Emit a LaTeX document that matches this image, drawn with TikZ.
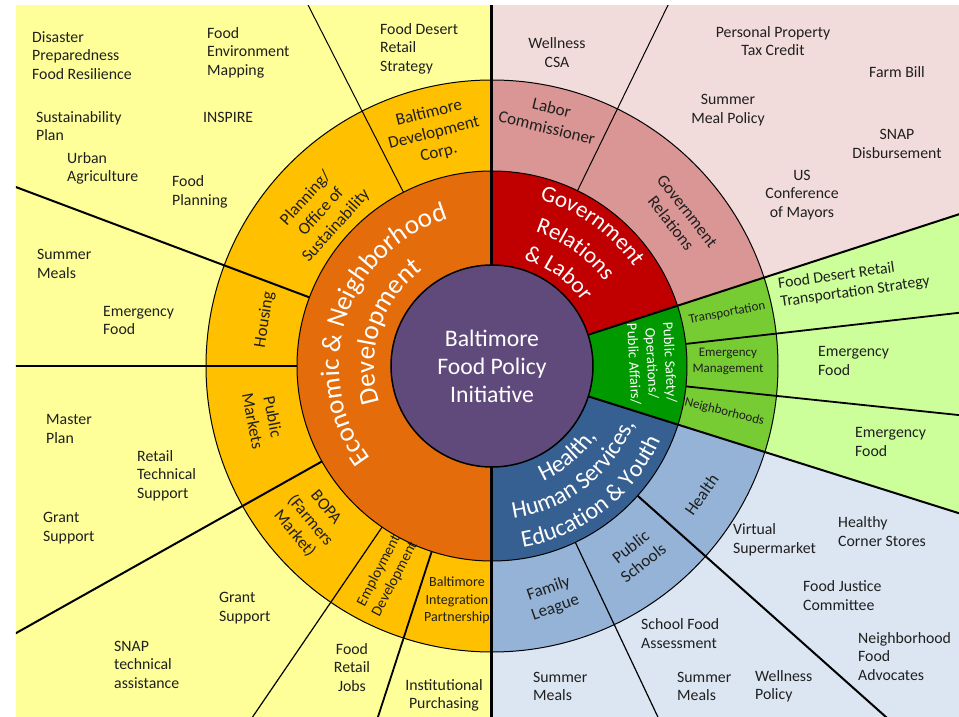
\documentclass[tikz,border=0pt]{standalone}
\usepackage{fontspec}
\setmainfont{Carlito}
\usepackage{xcolor}
\usepackage{tikz}
\usetikzlibrary{decorations.text}
\definecolor{bfpInk}{HTML}{1F1F1F}
\definecolor{bfpYellow}{HTML}{FFFF99}
\definecolor{bfpGold}{HTML}{FFC000}
\definecolor{bfpOrange}{HTML}{E46C0A}
\definecolor{bfpPurple}{HTML}{604A7B}
\definecolor{bfpRed}{HTML}{C00000}
\definecolor{bfpRose}{HTML}{D99694}
\definecolor{bfpBlush}{HTML}{F2DCDB}
\definecolor{bfpGreen}{HTML}{009900}
\definecolor{bfpLime}{HTML}{77CC33}
\definecolor{bfpMint}{HTML}{CCFF99}
\definecolor{bfpNavy}{HTML}{376092}
\definecolor{bfpSky}{HTML}{95B3D7}
\definecolor{bfpMist}{HTML}{DCE6F2}

\begin{document}
\begin{tikzpicture}[
  x=1pt, y=1pt,
  every node/.style={inner sep=0pt, text=bfpInk},
  note/.style={align=left, anchor=west, font=\fontsize{15.8}{18.5}\selectfont},
  cnote/.style={note, align=center, anchor=center},
  unit/.style={align=center, font=\fontsize{17}{20.5}\selectfont},
  subunit/.style={align=center, font=\fontsize{13}{16}\selectfont},
  hub/.style={circle, fill=bfpPurple, draw=black, line width=1.5pt, minimum size=202pt,
    align=center, text=white, font=\fontsize{23.7}{28}\selectfont},
  divider/.style={draw=black, line width=#1},
  divider/.default=2pt,
  rim/.style={draw=black, line width=1pt},
  ringtext/.style={decorate, decoration={text along path, text align=center, text color=white}}
]
  \useasboundingbox (-492,-351) rectangle (467,366);

  \begin{scope}
    \clip (-476,-351) rectangle (467,360);
    % outer fields, ring of units, ring of departments
    \foreach \a/\b/\tint in {90/270/bfpYellow, 18/90/bfpBlush, -17.5/18/bfpMint, -90/-17.5/bfpMist}
      \fill[\tint] (0,0) -- (\a:1000) arc[start angle=\a, end angle=\b, radius=1000] -- cycle;
    \foreach \a/\b/\tint in {90/270/bfpGold, 18/90/bfpRose, -17.5/18/bfpLime, -90/-17.5/bfpSky}
      \fill[\tint] (0,0) -- (\a:286) arc[start angle=\a, end angle=\b, radius=286] -- cycle;
    \draw[rim] (0,0) circle[radius=286];
    \foreach \a/\b/\tint in {90/270/bfpOrange, 18/90/bfpRed, -17.5/18/bfpGreen, -90/-17.5/bfpNavy}
      \fill[\tint] (0,0) -- (\a:195) arc[start angle=\a, end angle=\b, radius=195] -- cycle;
    \draw[rim] (0,0) circle[radius=195];

    \foreach \a/\w in {117/1, 159.4/2, 180/1.5, 209.3/2, 235.7/1.2, 252/1.8,
                       64/1, 6.5/1.8, -6/1.8, -41.7/2, -64.7/1.2}
      \draw[divider=\w pt] (\a:195) -- (\a:1000);
    \foreach \a in {90,-90}
      \draw[divider=3pt] (\a:101) -- (\a:1000);
    \foreach \a in {18,-17.5}
      \draw[divider=2pt] (\a:101) -- (\a:1000);
  \end{scope}

  \node[hub] (bfpi) at (0,0) {Baltimore\\Food Policy\\Initiative};

  % departments, set along the ring
  \path[ringtext, decoration={text={|\fontsize{27}{31}\selectfont|Economic {\&} Neighborhood}}]
    (252:153) arc[start angle=252, end angle=72, radius=153];
  \path[ringtext, decoration={text={|\fontsize{27}{31}\selectfont|Development}}]
    (252:118) arc[start angle=252, end angle=72, radius=118];
  \path[ringtext, decoration={text={|\fontsize{23}{27}\selectfont|Government}}]
    (144.5:173) arc[start angle=144.5, end angle=-35.5, radius=173];
  \path[ringtext, decoration={text={|\fontsize{23}{27}\selectfont|Relations}}]
    (144.5:141) arc[start angle=144.5, end angle=-35.5, radius=141];
  \path[ringtext, decoration={text={|\fontsize{23}{27}\selectfont|{\&} Labor}}]
    (144.5:111) arc[start angle=144.5, end angle=-35.5, radius=111];
  \path[ringtext, decoration={text={|\fontsize{24}{28}\selectfont|Health,}}]
    (-140:126) arc[start angle=-140, end angle=40, radius=126];
  \path[ringtext, decoration={text={|\fontsize{24}{28}\selectfont|Human Services,}}]
    (-142:154) arc[start angle=-142, end angle=38, radius=154];
  \path[ringtext, decoration={text={|\fontsize{24}{28}\selectfont|Education {\&} Youth}}]
    (-142:184) arc[start angle=-142, end angle=38, radius=184];
  \node[align=center, text=white, font=\fontsize{14.5}{18}\selectfont, rotate=-87] (pubsafety) at (1:160)
    {Public Safety/\\Operations/\\Public Affairs/};

  % units
  \node[unit, rotate=14] (bdc) at (104:240) {Baltimore\\Development\\Corp.};
  \node[unit, rotate=48] (planning) at (138:230) {Planning/\\Office of\\Sustainability};
  \node[unit, rotate=81] (housing) at (168.5:232) {Housing};
  \node[unit, rotate=-79] (markets) at (193:235) {Public\\Markets};
  \node[unit, rotate=-50] (bopa) at (220.4:239) {BOPA\\(Farmers\\Market)};
  \node[unit, font=\fontsize{15}{18}\selectfont, rotate=62.5] (employ) at (243.3:234) {Employment\\Development};
  \node[unit, font=\fontsize{14}{17.5}\selectfont] (bip) at (261.5:237) {Baltimore\\Integration\\Partnership};
  \node[unit, rotate=-13.5] (labor) at (77:255) {Labor\\Commissioner};
  \node[unit, rotate=-52] (govrel) at (38.5:239) {Government\\Relations};
  \node[subunit, rotate=11] (transport) at (12.7:241) {Transportation};
  \node[subunit] (emergmgmt) at (1:236) {Emergency\\Management};
  \node[subunit, rotate=-14] (hoods) at (-11.2:237) {Neighborhoods};
  \node[unit, rotate=55] (health) at (-31.6:246) {Health};
  \node[unit, rotate=38] (schools) at (-52.5:238) {Public\\Schools};
  \node[unit, rotate=19] (family) at (-75.5:240) {Family\\League};

  % programs, placed in page coordinates
  \begin{scope}[shift={(-492,366)}, y=-1pt]
    \node[note] (disaster) at (32,55.5) {Disaster\\Preparedness\\Food Resilience};
    \node[note] (envmap) at (207,52.5) {Food\\Environment\\Mapping};
    \node[note] (sustplan) at (36,126) {Sustainability\\Plan};
    \node[note] (inspire) at (203,117) {INSPIRE};
    \node[note] (urbanag) at (67,168.5) {Urban\\Agriculture};
    \node[note] (foodplan) at (172,192) {Food\\Planning};
    \node[note] (deserttop) at (380,48.5) {Food Desert\\Retail\\Strategy};
    \node[note] (summerleft) at (37,264) {Summer\\Meals};
    \node[note] (emergleft) at (103,320.5) {Emergency\\Food};
    \node[note] (masterplan) at (46,429) {Master\\Plan};
    \node[note] (retailts) at (137,475.5) {Retail\\Technical\\Support};
    \node[note] (grantleft) at (43,528) {Grant\\Support};
    \node[note] (grantmid) at (219,608) {Grant\\Support};
    \node[note] (snapta) at (114,664.5) {SNAP\\technical\\assistance};
    \node[cnote] (retailjobs) at (352,667.5) {Food\\Retail\\Jobs};
    \node[cnote] (instpurch) at (444,695.5) {Institutional\\Purchasing};

    \node[cnote] (wellcsa) at (557,52.5) {Wellness\\CSA};
    \node[cnote] (proptax) at (773,41) {Personal Property\\Tax Credit};
    \node[cnote] (farmbill) at (897,72) {Farm Bill};
    \node[cnote] (mealpolicy) at (728,110) {Summer\\Meal Policy};
    \node[cnote] (snapdisb) at (897,144) {SNAP\\Disbursement};
    \node[cnote] (usmayors) at (802,195) {US\\Conference\\of Mayors};

    \node[note, anchor=center, rotate=8] (deserttrans) at (854,283) {Food Desert Retail\\Transportation Strategy};
    \node[note] (emergmid) at (818,361) {Emergency\\Food};
    \node[note] (emerglow) at (855,442) {Emergency\\Food};

    \node[note] (virtualsm) at (733,540) {Virtual\\Supermarket};
    \node[note] (cornerst) at (838,531.5) {Healthy\\Corner Stores};
    \node[note] (justice) at (803,595.5) {Food Justice\\Committee};
    \node[note] (advocates) at (858,656.5) {Neighborhood\\Food\\Advocates};
    \node[note] (schoolfood) at (641,633.5) {School Food\\Assessment};
    \node[note] (summerps) at (677,686.5) {Summer\\Meals};
    \node[note] (wellpolicy) at (755,686.5) {Wellness\\Policy};
    \node[note] (summerfl) at (533,686.5) {Summer\\Meals};
  \end{scope}
\end{tikzpicture}
\end{document}
